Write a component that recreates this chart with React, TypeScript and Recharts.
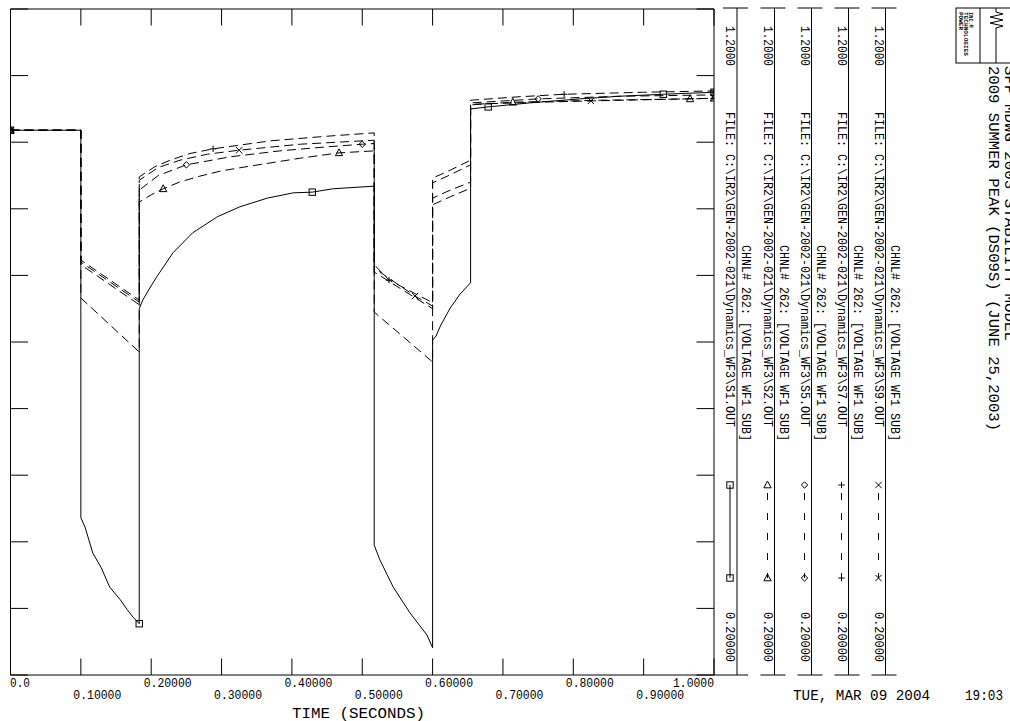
import React from 'react';
import { LineChart, Line, XAxis, YAxis } from 'recharts';

// ---------- axis ticks ----------
const X_TICKS = [0, 0.1, 0.2, 0.3, 0.4, 0.5, 0.6, 0.7, 0.8, 0.9, 1.0];
const X_TICK_LABELS = ['0.0', '0.10000', '0.20000', '0.30000', '0.40000', '0.50000', '0.60000', '0.70000', '0.80000', '0.90000', '1.0000'];
const Y_TICKS = [0.2, 0.3, 0.4, 0.5, 0.6, 0.7, 0.8, 0.9, 1.0, 1.1, 1.2];
const Y_MIN = 0.2;
const Y_MAX = 1.2;

// ---------- series: S1 (solid, squares) ----------
const S1_T = [0, 0.1, 0.1, 0.106, 0.117, 0.129, 0.141, 0.156, 0.166, 0.174, 0.183, 0.183, 0.188, 0.198, 0.208, 0.231, 0.259, 0.294, 0.326, 0.365, 0.402, 0.429, 0.458, 0.517, 0.517, 0.525, 0.544, 0.568, 0.592, 0.6, 0.6, 0.605, 0.611, 0.625, 0.639, 0.654, 0.654, 0.679, 0.738, 0.809, 0.866, 0.928, 1.0];
const S1_V = [1.018, 1.018, 0.436, 0.422, 0.383, 0.361, 0.332, 0.313, 0.298, 0.287, 0.277, 0.75, 0.763, 0.781, 0.798, 0.834, 0.864, 0.888, 0.903, 0.916, 0.924, 0.925, 0.93, 0.934, 0.395, 0.373, 0.332, 0.293, 0.26, 0.241, 0.703, 0.709, 0.724, 0.751, 0.772, 0.789, 1.05, 1.053, 1.059, 1.065, 1.069, 1.072, 1.075];
const S1_MARKS = [0, 0.183, 0.429, 0.679, 0.928, 1.0];

// ---------- series: S2 (dashed, triangles) ----------
const S2_T = [0, 0.1, 0.1, 0.141, 0.183, 0.183, 0.2, 0.217, 0.24, 0.269, 0.3, 0.34, 0.412, 0.467, 0.517, 0.517, 0.558, 0.6, 0.6, 0.625, 0.654, 0.654, 0.714, 0.838, 0.966, 1.0];
const S2_V = [1.018, 1.018, 0.766, 0.726, 0.685, 0.91, 0.921, 0.93, 0.94, 0.949, 0.957, 0.964, 0.976, 0.984, 0.987, 0.745, 0.708, 0.67, 0.906, 0.918, 0.931, 1.056, 1.06, 1.063, 1.065, 1.066];
const S2_MARKS = [0, 0.217, 0.467, 0.714, 0.966, 1.0];

// ---------- series: S5 (dashed, diamonds) ----------
const S5_T = [0, 0.1, 0.1, 0.183, 0.183, 0.21, 0.25, 0.312, 0.383, 0.45, 0.5, 0.517, 0.517, 0.6, 0.6, 0.625, 0.654, 0.654, 0.75, 0.866, 1.0];
const S5_V = [1.018, 1.018, 0.816, 0.756, 0.928, 0.95, 0.966, 0.978, 0.987, 0.993, 0.997, 0.998, 0.805, 0.75, 0.916, 0.928, 0.94, 1.059, 1.065, 1.069, 1.071];
const S5_MARKS = [0, 0.25, 0.5, 0.75, 1.0];

// ---------- series: S7 (dashed, plus) ----------
const S7_T = [0, 0.1, 0.1, 0.183, 0.183, 0.205, 0.227, 0.255, 0.288, 0.369, 0.45, 0.517, 0.517, 0.538, 0.6, 0.6, 0.625, 0.654, 0.654, 0.72, 0.787, 0.9, 1.0];
const S7_V = [1.018, 1.018, 0.823, 0.763, 0.948, 0.963, 0.973, 0.983, 0.99, 1.002, 1.009, 1.014, 0.816, 0.793, 0.759, 0.946, 0.958, 0.973, 1.063, 1.068, 1.072, 1.075, 1.077];
const S7_MARKS = [0, 0.288, 0.538, 0.787, 1.0];

// ---------- series: S9 (dashed, x) ----------
const S9_T = [0, 0.1, 0.1, 0.183, 0.183, 0.21, 0.241, 0.28, 0.325, 0.412, 0.517, 0.517, 0.575, 0.6, 0.6, 0.625, 0.654, 0.654, 0.75, 0.825, 1.0];
const S9_V = [1.018, 1.018, 0.82, 0.76, 0.943, 0.962, 0.973, 0.982, 0.988, 0.997, 1.003, 0.811, 0.769, 0.754, 0.939, 0.951, 0.966, 1.057, 1.06, 1.062, 1.066];
const S9_MARKS = [0, 0.325, 0.575, 0.825, 1.0];

// ---------- legend / text ----------
const SERIES_IDS = ['S1', 'S2', 'S5', 'S7', 'S9'];
const SERIES_SHAPES = ['square', 'triangle', 'diamond', 'plus', 'x'];
const FILE_PREFIX = 'FILE: C:\\IR2\\GEN-2002-021\\Dynamics_WF3\\';
const CHANNEL_LABEL = 'CHNL# 262: [VOLTAGE WF1 SUB]';
const AXIS_MAX_LABEL = '1.2000';
const AXIS_MIN_LABEL = '0.20000';
const TITLE_1 = 'SPP MDWG 2003 STABILITY MODEL';
const TITLE_2 = '2009 SUMMER PEAK (DS09S) (JUNE 25,2003)';
const DATE_LABEL = 'TUE, MAR 09 2004';
const TIME_LABEL = '19:03';
const X_TITLE = 'TIME (SECONDS)';

const FONT = "'Liberation Mono', 'DejaVu Sans Mono', monospace";

const build = (T: number[], V: number[]) => T.map((t, i) => ({ t, v: V[i] }));
const markIdx = (T: number[], M: number[]) => new Set(M.map((m) => T.indexOf(m)));

function Marker({ shape, cx, cy }: { shape: string; cx: number; cy: number }) {
  const s = 3.2;
  const common = { fill: 'none', stroke: '#000', strokeWidth: 1 };
  switch (shape) {
    case 'square':
      return <rect x={cx - s} y={cy - s} width={2 * s} height={2 * s} {...common} />;
    case 'triangle':
      return <polygon points={`${cx},${cy - s - 0.8} ${cx - s - 0.4},${cy + s - 0.4} ${cx + s + 0.4},${cy + s - 0.4}`} {...common} />;
    case 'diamond':
      return <polygon points={`${cx},${cy - s} ${cx + s},${cy} ${cx},${cy + s} ${cx - s},${cy}`} {...common} />;
    case 'plus':
      return <path d={`M${cx - s},${cy}H${cx + s}M${cx},${cy - s}V${cy + s}`} {...common} />;
    default:
      return <path d={`M${cx - s},${cy - s}L${cx + s},${cy + s}M${cx + s},${cy - s}L${cx - s},${cy + s}`} {...common} />;
  }
}

const makeDot = (shape: string, marks: Set<number>) => (props: any) => {
  const { cx, cy, index } = props;
  if (!marks.has(index) || cx == null || cy == null) return <g key={`e-${shape}-${index}`} />;
  return (
    <g key={`m-${shape}-${index}`}>
      <Marker shape={shape} cx={cx} cy={cy} />
    </g>
  );
};

const SERIES = [
  { id: 'S1', T: S1_T, V: S1_V, M: S1_MARKS, shape: 'square', dashed: false },
  { id: 'S2', T: S2_T, V: S2_V, M: S2_MARKS, shape: 'triangle', dashed: true },
  { id: 'S5', T: S5_T, V: S5_V, M: S5_MARKS, shape: 'diamond', dashed: true },
  { id: 'S7', T: S7_T, V: S7_V, M: S7_MARKS, shape: 'plus', dashed: true },
  { id: 'S9', T: S9_T, V: S9_V, M: S9_MARKS, shape: 'x', dashed: true },
];

const BottomTick = (props: any) => {
  const { x, y, index } = props;
  const label = X_TICK_LABELS[index] ?? '';
  const w = label.length * 7 - 1;
  let sx = x - 7.5;
  if (index === 0) sx = x - 0.5;
  if (index === X_TICKS.length - 1) sx = x - w;
  const by = index % 2 === 0 ? y + 12 : y + 24;
  return (
    <g>
      <line x1={x} y1={y} x2={x} y2={y - 16.5} stroke="#000" strokeWidth={1} />
      <text x={sx} y={by} fontSize={12} fontFamily={FONT} fill="#000" textLength={w} lengthAdjust="spacingAndGlyphs">
        {label}
      </text>
    </g>
  );
};

const TopTick = (props: any) => {
  const { x, y } = props;
  return <line x1={x} y1={y} x2={x} y2={y + 16.5} stroke="#000" strokeWidth={1} />;
};

const LeftTick = (props: any) => {
  const { x, y } = props;
  return <line x1={x} y1={y} x2={x + 17.5} y2={y} stroke="#000" strokeWidth={1} />;
};

const RightTick = (props: any) => {
  const { x, y } = props;
  return <line x1={x} y1={y} x2={x - 17.5} y2={y} stroke="#000" strokeWidth={1} />;
};

function VText({ x, y, len, size, children, weight }: any) {
  return (
    <text
      transform={`translate(${x},${y}) rotate(90)`}
      x={0}
      y={0}
      fontSize={size}
      fontFamily={FONT}
      fontWeight={weight}
      fill="#000"
      dominantBaseline="central"
      textLength={len}
      lengthAdjust="spacingAndGlyphs"
    >
      {children}
    </text>
  );
}

const COL_LINES = [737, 774.5, 811.5, 848.5, 885.5];

function Overlay() {
  return (
    <svg width={1010} height={721} style={{ position: 'absolute', left: 0, top: 0, pointerEvents: 'none' }}>
      {SERIES_IDS.map((id, i) => {
        const lx = COL_LINES[i];
        const tx = lx - 8;
        const shape = SERIES_SHAPES[i];
        return (
          <g key={id}>
            <line x1={lx} y1={8} x2={lx} y2={675} stroke="#000" strokeWidth={1} />
            <line x1={lx - 14} y1={8} x2={lx + 11} y2={8} stroke="#000" strokeWidth={1} />
            <line x1={i === 0 ? 714 : lx - 14} y1={675} x2={lx + 11} y2={675} stroke="#000" strokeWidth={1} />
            <VText x={tx} y={26} len={40} size={12}>{AXIS_MAX_LABEL}</VText>
            <VText x={tx} y={112} len={315} size={12}>{FILE_PREFIX + id + '.OUT'}</VText>
            <VText x={lx + 8} y={245} len={196} size={12}>{CHANNEL_LABEL}</VText>
            <VText x={tx} y={612} len={50} size={12}>{AXIS_MIN_LABEL}</VText>
            <line
              x1={tx + 1}
              y1={485}
              x2={tx + 1}
              y2={578}
              stroke="#000"
              strokeWidth={1}
              strokeDasharray={i === 0 ? undefined : '7 13'}
              strokeDashoffset={-8}
            />
            <Marker shape={shape} cx={tx + 1} cy={485} />
            <Marker shape={shape} cx={tx + 1} cy={578} />
          </g>
        );
      })}
      {/* logo */}
      <rect x={956} y={8} width={70} height={55} fill="none" stroke="#000" strokeWidth={1} />
      <line x1={980} y1={8} x2={980} y2={63} stroke="#000" strokeWidth={1} />
      <path d="M996,8 L996,12 L1003,14 L990,17 L1003,20 L990,23 L1003,26 L996,28 L996,63" fill="none" stroke="#000" strokeWidth={1} />
      <VText x={960} y={12} len={18} size={5.5} weight="bold">POWER</VText>
      <VText x={965} y={12} len={44} size={5.5} weight="bold">TECHNOLOGIES</VText>
      <VText x={970} y={12} len={16} size={5.5} weight="bold">INC.®</VText>
      {/* titles */}
      <VText x={1009} y={66} len={275} size={14}>{TITLE_1}</VText>
      <VText x={993} y={66} len={365} size={14}>{TITLE_2}</VText>
      {/* date */}
      <text x={793} y={700} fontSize={14} fontFamily={FONT} fill="#000" textLength={137} lengthAdjust="spacingAndGlyphs">{DATE_LABEL}</text>
      <text x={965} y={700} fontSize={14} fontFamily={FONT} fill="#000" textLength={38} lengthAdjust="spacingAndGlyphs">{TIME_LABEL}</text>
      {/* x axis title */}
      <text x={292} y={718} fontSize={14} fontFamily={FONT} fill="#000" textLength={133} lengthAdjust="spacingAndGlyphs">{X_TITLE}</text>
    </svg>
  );
}

export default function App() {
  return (
    <div style={{ position: 'absolute', left: 0, top: 0, width: 1010, height: 721, background: '#fff', overflow: 'hidden' }}>
      <LineChart width={1010} height={721} margin={{ top: 8, right: 295, bottom: 0, left: 9.5 }}>
        <XAxis
          xAxisId="b"
          type="number"
          dataKey="t"
          domain={[0, 1]}
          ticks={X_TICKS}
          interval={0}
          orientation="bottom"
          height={46}
          tickSize={0}
          tickMargin={0}
          tickLine={false}
          tick={BottomTick}
          axisLine={{ stroke: '#000', strokeWidth: 1 }}
          allowDataOverflow
        />
        <XAxis
          xAxisId="top"
          type="number"
          dataKey="t"
          domain={[0, 1]}
          ticks={X_TICKS}
          interval={0}
          orientation="top"
          height={1}
          tickSize={0}
          tickMargin={0}
          tickLine={false}
          tick={TopTick}
          axisLine={{ stroke: '#000', strokeWidth: 1 }}
          allowDataOverflow
        />
        <YAxis
          yAxisId="l"
          type="number"
          domain={[Y_MIN, Y_MAX]}
          ticks={Y_TICKS}
          interval={0}
          width={1}
          tickSize={0}
          tickMargin={0}
          tickLine={false}
          tick={LeftTick}
          axisLine={{ stroke: '#000', strokeWidth: 1 }}
          allowDataOverflow
        />
        <YAxis
          yAxisId="r"
          orientation="right"
          type="number"
          domain={[Y_MIN, Y_MAX]}
          ticks={Y_TICKS}
          interval={0}
          width={1}
          tickSize={0}
          tickMargin={0}
          tickLine={false}
          tick={RightTick}
          axisLine={{ stroke: '#000', strokeWidth: 1 }}
          allowDataOverflow
        />
        {SERIES.map((s) => (
          <Line
            key={s.id}
            xAxisId="b"
            yAxisId="l"
            data={build(s.T, s.V)}
            dataKey="v"
            type="linear"
            stroke="#000"
            strokeWidth={1}
            strokeDasharray={s.dashed ? '9 5' : undefined}
            dot={makeDot(s.shape, markIdx(s.T, s.M))}
            activeDot={false}
            isAnimationActive={false}
          />
        ))}
      </LineChart>
      <Overlay />
    </div>
  );
}
